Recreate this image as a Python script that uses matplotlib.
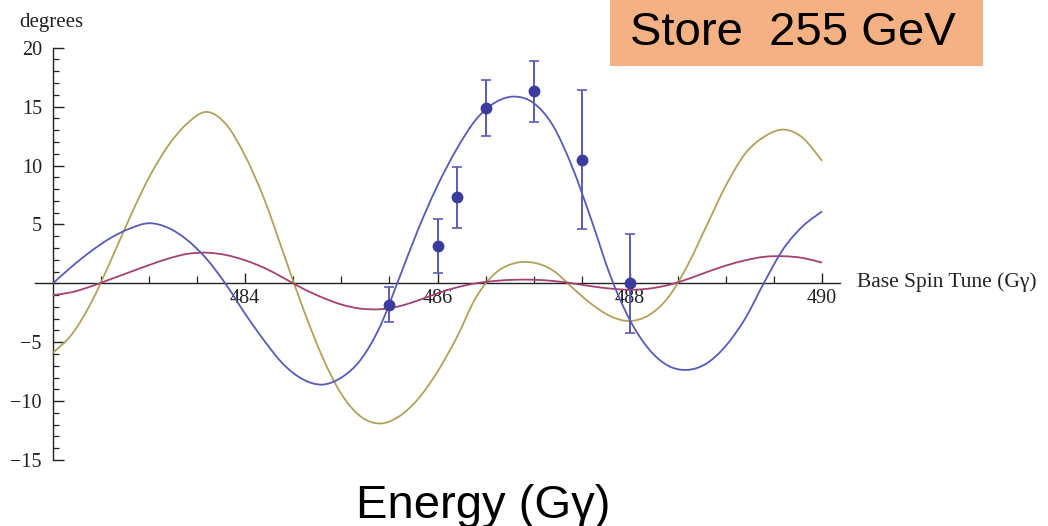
import matplotlib
matplotlib.use('Agg')
import matplotlib.pyplot as plt
from matplotlib.patches import Rectangle, PathPatch
from matplotlib.path import Path
from matplotlib.ticker import FixedLocator, MultipleLocator

# Кривые (шаг 0.2)
spin_tune = [482.0, 482.2, 482.4, 482.6, 482.8, 483.0, 483.2, 483.4, 483.6, 483.8,
             484.0, 484.2, 484.4, 484.6, 484.8, 485.0, 485.2, 485.4, 485.6, 485.8,
             486.0, 486.2, 486.4, 486.6, 486.8, 487.0, 487.2, 487.4, 487.6, 487.8,
             488.0, 488.2, 488.4, 488.6, 488.8, 489.0, 489.2, 489.4, 489.6, 489.8,
             490.0]

blue_fit = [0.0, 1.45, 2.75, 3.85, 4.65, 5.1, 4.7, 3.65, 2.05, -0.1,
            -2.6, -4.9, -6.9, -8.15, -8.6, -8.0, -6.5, -3.7, 0.4, 4.6,
            8.3, 11.4, 13.9, 15.35, 15.85, 15.3, 13.4, 9.9, 5.4, 0.6,
            -3.1, -5.6, -7.0, -7.35, -6.8, -5.3, -3.0, 0.1, 2.95, 4.85,
            6.1]

gold_curve = [-5.9, -4.3, -1.6, 1.9, 5.6, 9.0, 11.7, 13.6, 14.55, 13.5,
              10.8, 7.1, 2.5, -2.1, -6.2, -9.4, -11.3, -11.9, -11.3, -9.8,
              -7.5, -4.6, -1.2, 0.85, 1.7, 1.75, 1.1, -0.35, -1.75, -2.8,
              -3.2, -2.7, -1.2, 1.5, 4.9, 8.3, 11.0, 12.45, 13.05, 12.35,
              10.4]

magenta_curve = [-1.0, -0.75, -0.25, 0.35, 0.95, 1.55, 2.1, 2.5, 2.6, 2.4,
                 1.95, 1.3, 0.45, -0.45, -1.2, -1.8, -2.15, -2.2, -1.95, -1.45,
                 -0.85, -0.35, 0.0, 0.2, 0.3, 0.3, 0.2, 0.0, -0.25, -0.45,
                 -0.55, -0.45, -0.15, 0.35, 0.95, 1.5, 1.95, 2.25, 2.3, 2.15,
                 1.75]

# Измерения с ошибками
meas_x = [485.5, 486.0, 486.2, 486.5, 487.0, 487.5, 488.0]
meas_y = [-1.8, 3.2, 7.3, 14.9, 16.3, 10.5, 0.0]
meas_err = [1.45, 2.3, 2.6, 2.4, 2.6, 5.9, 4.2]

W, H = 1048, 526
TXT = '#222222'
SERIF = 'Liberation Serif'


def smooth_path(xs, ys):
    """Кривая Безье через точки (Catmull-Rom), чтобы линия была гладкой"""
    n = len(xs)
    verts = [(xs[0], ys[0])]
    codes = [Path.MOVETO]
    for i in range(n - 1):
        i0, i3 = max(i - 1, 0), min(i + 2, n - 1)
        c1 = (xs[i] + (xs[i + 1] - xs[i0]) / 6, ys[i] + (ys[i + 1] - ys[i0]) / 6)
        c2 = (xs[i + 1] - (xs[i3] - xs[i]) / 6, ys[i + 1] - (ys[i3] - ys[i]) / 6)
        verts += [c1, c2, (xs[i + 1], ys[i + 1])]
        codes += [Path.CURVE4] * 3
    return Path(verts, codes)


fig = plt.figure(figsize=(W / 100, H / 100), dpi=100)

# оси в пикселях: x 35..840, y 47.7..460
ax = fig.add_axes([35 / W, 1 - 460 / H, 805 / W, (460 - 47.7) / H])
ax.set_xlim(481.813, 490.187)
ax.set_ylim(-15, 20)

for ys, col, z in [(gold_curve, '#b0a25c', 2), (magenta_curve, '#a4416f', 2),
                   (blue_fit, '#5a5ab4', 3)]:
    ax.add_patch(PathPatch(smooth_path(spin_tune, ys), fill=False,
                           edgecolor=col, lw=1.3, zorder=z))

ax.errorbar(meas_x, meas_y, yerr=meas_err, fmt='o', color='#3c3c9c',
            ecolor='#5c5cb4', elinewidth=1.4, capsize=3.3, capthick=1.2,
            markersize=7.5, zorder=4)

# Стиль Mathematica: оси пересекаются в нуле
for s in ['top', 'right']:
    ax.spines[s].set_visible(False)
ax.spines['bottom'].set_position(('data', 0))
ax.spines['left'].set_position(('data', 482))
ax.spines['left'].set_bounds(-15, 20)
for s in ['bottom', 'left']:
    ax.spines[s].set_color(TXT)
    ax.spines[s].set_linewidth(1.0)
    ax.spines[s].set_zorder(1)

ax.xaxis.set_major_locator(FixedLocator([484, 486, 488, 490]))
ax.xaxis.set_minor_locator(FixedLocator([482.5, 483, 483.5, 484.5, 485, 485.5,
                                         486.5, 487, 487.5, 488.5, 489, 489.5]))
ax.yaxis.set_major_locator(FixedLocator([-15, -10, -5, 5, 10, 15, 20]))
ax.yaxis.set_minor_locator(MultipleLocator(1))

ax.tick_params(axis='both', which='both', direction='in', color=TXT,
               labelcolor=TXT, labelsize=14.5)
ax.tick_params(axis='x', which='major', length=7, width=1.0, pad=4)
ax.tick_params(axis='x', which='minor', length=5, width=0.9)
ax.tick_params(axis='y', which='major', length=8, width=1.0, pad=8)
ax.tick_params(axis='y', which='minor', length=4.5, width=0.9)
for lab in ax.get_xticklabels() + ax.get_yticklabels():
    lab.set_family(SERIF)

fig.text(19 / W, 1 - 22 / H, 'degrees', family=SERIF,
         fontsize=15, color=TXT, ha='left', va='center')
fig.text(857 / W, 1 - 282 / H, 'Base Spin Tune (Gγ)', family=SERIF,
         fontsize=15.5, color=TXT, ha='left', va='center')

# Оранжевая плашка
fig.patches.append(Rectangle((610 / W, 1 - 66 / H), 373 / W, 66 / H,
                             transform=fig.transFigure, facecolor='#f4b183',
                             edgecolor='none'))
fig.text(630 / W, 1 - 45 / H, 'Store  255 GeV', family='Liberation Sans',
         fontsize=34, color='black', ha='left', va='baseline')

fig.text(483 / W, 1 - 518 / H, 'Energy (Gγ)', family='Liberation Sans',
         fontsize=34, color='black', ha='center', va='baseline')

plt.savefig('out.png', dpi=100)
plt.close()
